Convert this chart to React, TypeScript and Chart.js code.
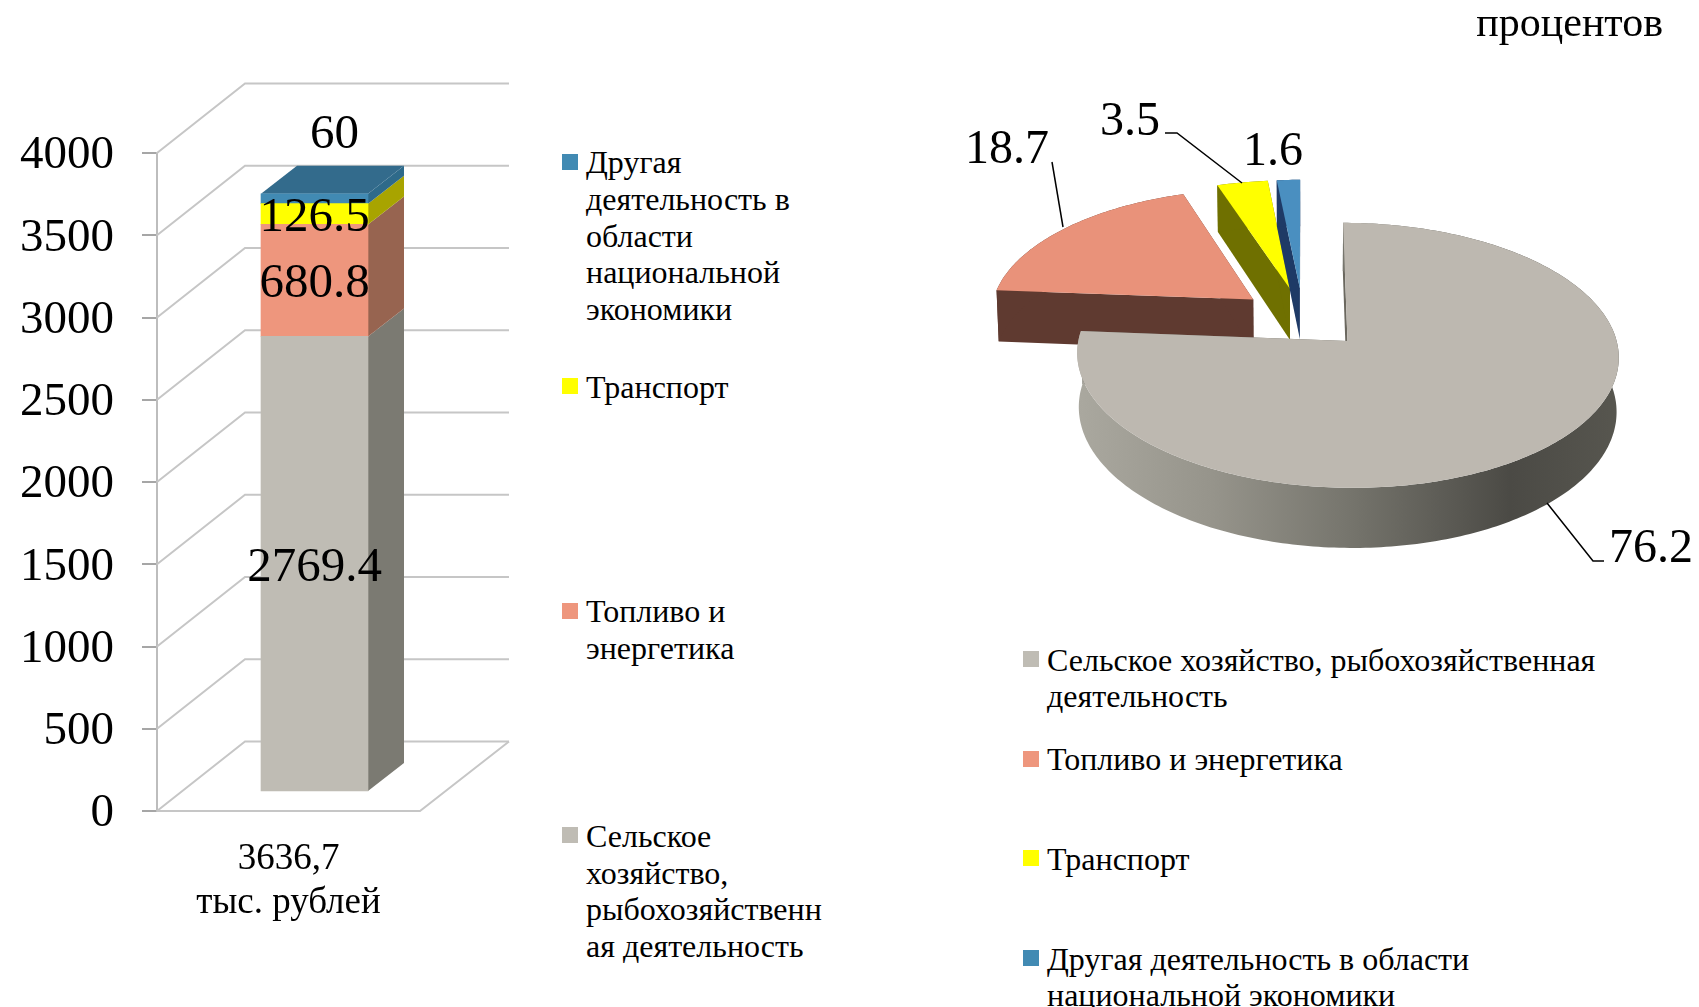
import React, { useEffect, useRef } from "react";
import { Chart, registerables } from "chart.js";

Chart.register(...registerables);

const FONT = "'Liberation Serif', 'Times New Roman', serif";

// ---- data ----
const barCategory = ["3636,7", "тыс. рублей"];
const barSeriesNames = [
  "Сельское хозяйство, рыбохозяйственная деятельность",
  "Топливо и энергетика",
  "Транспорт",
  "Другая деятельность в области национальной экономики",
];
const barValues = [2769.4, 680.8, 126.5, 60];
const barLabelsText = ["2769.4", "680.8", "126.5", "60"];
const yTickStep = 500;
const yMax = 4000;

const pieLabels = barSeriesNames;
const pieValues = [76.2, 18.7, 3.5, 1.6];
const pieLabelsText = ["76.2", "18.7", "3.5", "1.6"];

// ---- styles ----
const frontColors = ["#bfbcb4", "#ee967d", "#ffff00", "#418ab3"];
const sideColors = ["#7b7a72", "#976450", "#a8a400", "#2e6a8a"];
const topColor = "#336b8c";
const pieTopColors = ["#bdb8b0", "#e9927a", "#ffff00", "#4a8fc0"];
const pieWallColors = ["#6b685f", "#5f3a30", "#6f7000", "#1e3a66"];

const leftLegendLines = [
  { c: 3, lines: ["Другая", "деятельность в", "области", "национальной", "экономики"] },
  { c: 2, lines: ["Транспорт"] },
  { c: 1, lines: ["Топливо и", "энергетика"] },
  { c: 0, lines: ["Сельское", "хозяйство,", "рыбохозяйственн", "ая деятельность"] },
];
const rightLegendLines = [
  { c: 0, lines: ["Сельское хозяйство, рыбохозяйственная", "деятельность"] },
  { c: 1, lines: ["Топливо и энергетика"] },
  { c: 2, lines: ["Транспорт"] },
  { c: 3, lines: ["Другая деятельность в области", "национальной экономики"] },
];

// 3D geometry of the column chart
const depth = { dx: 88, dy: 69.5 };
const barShift = { x: 26, y: -19 };
const barDepth = { dx: 36, dy: 28 };

const columnPlugin = {
  id: "column3d",
  beforeDatasetsDraw(chart: any) {
    const { ctx, chartArea, scales } = chart;
    const y = scales.y;
    ctx.save();
    ctx.strokeStyle = "#c6c6c6";
    ctx.lineWidth = 2;
    const backRight = chartArea.right + depth.dx + 1;
    y.ticks.forEach((t: any) => {
      const py = y.getPixelForValue(t.value);
      ctx.beginPath();
      ctx.moveTo(chartArea.left, py);
      ctx.lineTo(chartArea.left + depth.dx, py - depth.dy);
      ctx.lineTo(backRight, py - depth.dy);
      ctx.stroke();
    });
    const by = y.getPixelForValue(0);
    ctx.beginPath();
    ctx.moveTo(chartArea.left, by);
    ctx.lineTo(chartArea.right, by);
    ctx.lineTo(backRight, by - depth.dy);
    ctx.stroke();
    ctx.restore();

    ctx.save();
    ctx.translate(barShift.x, barShift.y);
    chart.data.datasets.forEach((_: any, i: number) => {
      const bar = chart.getDatasetMeta(i).data[0];
      const right = bar.x + bar.width / 2;
      ctx.fillStyle = sideColors[i];
      ctx.beginPath();
      ctx.moveTo(right, bar.base);
      ctx.lineTo(right + barDepth.dx, bar.base - barDepth.dy);
      ctx.lineTo(right + barDepth.dx, bar.y - barDepth.dy);
      ctx.lineTo(right, bar.y);
      ctx.closePath();
      ctx.fill();
    });
    const last = chart.getDatasetMeta(chart.data.datasets.length - 1).data[0];
    ctx.fillStyle = topColor;
    ctx.beginPath();
    ctx.moveTo(last.x - last.width / 2, last.y);
    ctx.lineTo(last.x + last.width / 2, last.y);
    ctx.lineTo(last.x + last.width / 2 + barDepth.dx, last.y - barDepth.dy);
    ctx.lineTo(last.x - last.width / 2 + barDepth.dx, last.y - barDepth.dy);
    ctx.closePath();
    ctx.fill();
    // bars themselves are drawn by the library inside this translation
  },
  afterDatasetsDraw(chart: any) {
    const { ctx } = chart;
    ctx.restore();
    ctx.save();
    ctx.font = `49px ${FONT}`;
    ctx.fillStyle = "#000";
    ctx.textAlign = "center";
    ctx.textBaseline = "middle";
    const labelOffsets = [
      { x: 0, y: 4 },
      { x: 0, y: 4 },
      { x: 0, y: 4 },
      { x: 20, y: -64 },
    ];
    chart.data.datasets.forEach((_: any, i: number) => {
      const bar = chart.getDatasetMeta(i).data[0];
      ctx.fillText(
        barLabelsText[i],
        bar.x + barShift.x + labelOffsets[i].x,
        (bar.y + bar.base) / 2 + barShift.y + labelOffsets[i].y
      );
    });
    ctx.restore();
  },
};

// perspective of the pie: plane coordinates in units of the radius
const persp = { p: 0.107, a: 126, b: 264, d: 52.5, shrink: 0.993 };

function project(cx: number, cy: number, X: number, Y: number, lower: boolean) {
  const den = 1 - persp.p * Y;
  let x = cx + (persp.b * X) / den;
  let y = cy + (persp.a * Y) / den;
  if (lower) {
    y += persp.d / den;
    x = cx + (x - cx) * persp.shrink;
  }
  return [x, y];
}

const piePlugin = {
  id: "pie3d",
  beforeDatasetsDraw(chart: any) {
    const { ctx } = chart;
    const arcs = chart.getDatasetMeta(0).data;
    // back slices first, the large slice last
    const order = [1, 2, 3, 0];
    order.forEach((i) => {
      const arc = arcs[i];
      const R = arc.outerRadius;
      const e = arc.options.offset / R;
      const mid = (arc.startAngle + arc.endAngle) / 2;
      const ox = Math.cos(mid) * e;
      const oy = Math.sin(mid) * e;
      const steps = Math.max(4, Math.ceil(((arc.endAngle - arc.startAngle) * 180) / Math.PI));
      const pts = (lower: boolean) => {
        const out: number[][] = [];
        for (let s = 0; s <= steps; s++) {
          const t = arc.startAngle + ((arc.endAngle - arc.startAngle) * s) / steps;
          out.push(project(arc.x, arc.y, ox + Math.cos(t), oy + Math.sin(t), lower));
        }
        return out;
      };
      const up = pts(false);
      const low = pts(true);
      const apexU = project(arc.x, arc.y, ox, oy, false);
      const apexL = project(arc.x, arc.y, ox, oy, true);

      const poly = (p: number[][], fill: any) => {
        ctx.fillStyle = fill;
        ctx.beginPath();
        p.forEach((q, n) => (n ? ctx.lineTo(q[0], q[1]) : ctx.moveTo(q[0], q[1])));
        ctx.closePath();
        ctx.fill();
      };
      // radial cut faces
      poly([apexU, up[0], low[0], apexL], pieWallColors[i]);
      poly([apexU, up[steps], low[steps], apexL], pieWallColors[i]);
      // outer rim
      let rim: any = pieWallColors[i];
      if (i === 0) {
        const xs = up.map((q) => q[0]);
        const g = ctx.createLinearGradient(Math.min(...xs), 0, Math.max(...xs), 0);
        g.addColorStop(0, "#aaa89f");
        g.addColorStop(0.25, "#96948b");
        g.addColorStop(0.5, "#76756d");
        g.addColorStop(0.8, "#4b4a45");
        g.addColorStop(1, "#57564f");
        rim = g;
      }
      poly([...up, ...low.slice().reverse()], rim);
      // top surface
      poly([apexU, ...up], pieTopColors[i]);
    });
    return false; // the slices are drawn above from the library's arc geometry
  },
  afterDraw(chart: any) {
    const { ctx, canvas } = chart;
    const left = canvas.getBoundingClientRect().left;
    const top = canvas.getBoundingClientRect().top;
    ctx.save();
    ctx.translate(-left, -top);
    ctx.font = `48px ${FONT}`;
    ctx.fillStyle = "#000";
    ctx.textAlign = "center";
    ctx.textBaseline = "middle";
    const labelAt = [
      [1651, 549],
      [1007, 150],
      [1130, 122],
      [1273, 152],
    ];
    pieLabelsText.forEach((t, i) => ctx.fillText(t, labelAt[i][0], labelAt[i][1]));
    ctx.strokeStyle = "#000";
    ctx.lineWidth = 1.5;
    const leaders = [
      [[1547, 503], [1593, 561], [1604, 561]],
      [[1052, 162], [1063, 227]],
      [[1165, 133], [1177, 133], [1242, 183]],
    ];
    leaders.forEach((l) => {
      ctx.beginPath();
      l.forEach((q, n) => (n ? ctx.lineTo(q[0], q[1]) : ctx.moveTo(q[0], q[1])));
      ctx.stroke();
    });
    ctx.restore();
  },
};

function Legend({
  items,
  swatchX,
  textX,
  firstY,
  pitch,
}: {
  items: { c: number; lines: string[] }[];
  swatchX: number;
  textX: number;
  firstY: number;
  pitch: number;
}) {
  return (
    <>
      {items.map((it, i) => (
        <React.Fragment key={i}>
          <div
            style={{
              position: "absolute",
              left: swatchX,
              top: firstY + pitch * i - 9,
              width: 16,
              height: 16,
              background: frontColors[it.c],
            }}
          />
          <div
            style={{
              position: "absolute",
              left: textX,
              top: firstY + pitch * i - 18.4,
              font: `32px ${FONT}`,
              lineHeight: "36.8px",
              whiteSpace: "pre",
              color: "#000",
            }}
          >
            {it.lines.join("\n")}
          </div>
        </React.Fragment>
      ))}
    </>
  );
}

export default function App() {
  const barRef = useRef<HTMLCanvasElement>(null);
  const pieRef = useRef<HTMLCanvasElement>(null);

  useEffect(() => {
    const bar = new Chart(barRef.current as any, {
      type: "bar",
      plugins: [columnPlugin],
      data: {
        labels: [barCategory],
        datasets: barSeriesNames.map((name, i) => ({
          label: name,
          data: [barValues[i]],
          backgroundColor: frontColors[i],
          borderWidth: 0,
          barThickness: 107,
        })),
      } as any,
      options: {
        animation: false,
        responsive: false,
        layout: { autoPadding: false, padding: { top: 153, right: 140, bottom: 0, left: 0 } },
        plugins: { legend: { display: false }, tooltip: { enabled: false } },
        scales: {
          x: {
            stacked: true,
            grid: { display: false },
            border: { display: false },
            afterFit(s: any) {
              s.height = 1007 - 811;
            },
            ticks: { color: "#000", font: { family: FONT, size: 37, lineHeight: 1.19 }, padding: 18, maxRotation: 0 },
          },
          y: {
            stacked: true,
            min: 0,
            max: yMax,
            afterFit(s: any) {
              s.width = 157;
            },
            grid: { drawOnChartArea: false, drawTicks: true, tickLength: 15, tickColor: "#a6a6a6", lineWidth: 2 },
            border: { display: true, color: "#bdbdbd", width: 2 },
            ticks: {
              stepSize: yTickStep,
              color: "#000",
              padding: 28,
              labelOffset: 3,
              font: { family: FONT, size: 47 },
              callback: (v: any) => String(v),
            },
          },
        },
      } as any,
    });

    const pie = new Chart(pieRef.current as any, {
      type: "pie",
      plugins: [piePlugin],
      data: {
        labels: pieLabels,
        datasets: [
          {
            data: pieValues,
            backgroundColor: pieTopColors,
            borderWidth: 0,
            offset: 65,
          },
        ],
      },
      options: {
        animation: false,
        responsive: false,
        layout: { padding: 0 },
        plugins: { legend: { display: false }, tooltip: { enabled: false } },
      } as any,
    });

    return () => {
      bar.destroy();
      pie.destroy();
    };
  }, []);

  return (
    <div
      style={{
        position: "absolute",
        left: 0,
        top: 0,
        width: 1699,
        height: 1007,
        overflow: "hidden",
        background: "#fff",
      }}
    >
      <canvas ref={barRef} width={560} height={1007} style={{ position: "absolute", left: 0, top: 0, width: 560, height: 1007 }} />
      <canvas ref={pieRef} width={800} height={600} style={{ position: "absolute", left: 903, top: 18, width: 800, height: 600 }} />
      <Legend items={leftLegendLines} swatchX={562} textX={586} firstY={162.5} pitch={224.6} />
      <Legend items={rightLegendLines} swatchX={1023} textX={1047} firstY={660} pitch={99.7} />
      <div
        style={{
          position: "absolute",
          right: 36,
          top: -1,
          font: `42px ${FONT}`,
          lineHeight: "46px",
          color: "#000",
        }}
      >
        процентов
      </div>
    </div>
  );
}
